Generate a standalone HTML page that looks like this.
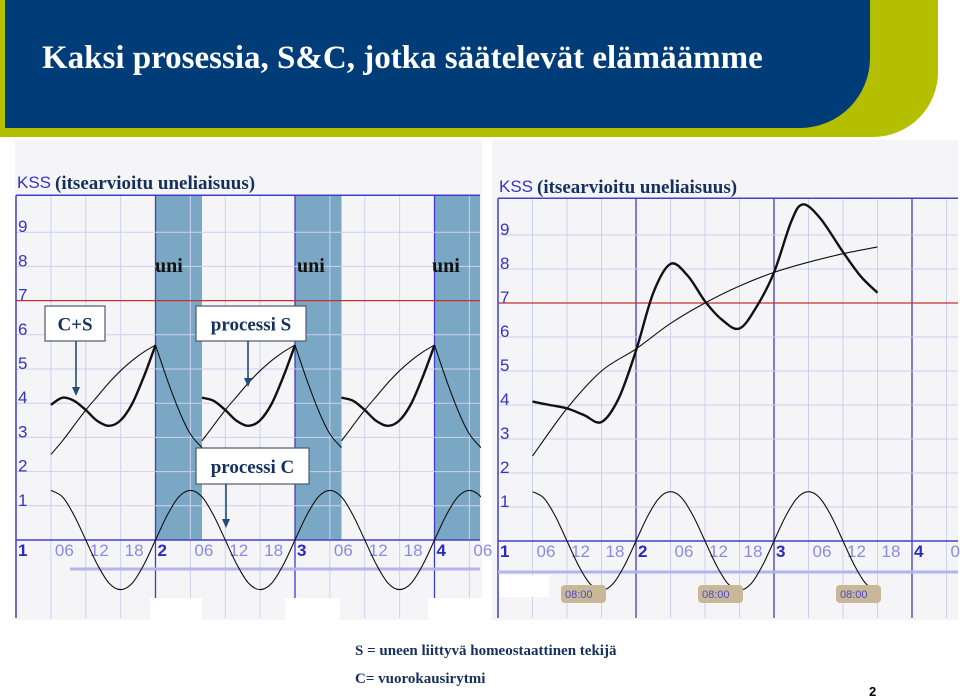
<!DOCTYPE html>
<html><head><meta charset="utf-8">
<style>
html,body{margin:0;padding:0;background:#fff;}
svg{display:block;}
.ax{font-family:"Liberation Sans Narrow","Liberation Sans",sans-serif;font-size:17px;}
.serif{font-family:"Liberation Serif",serif;font-weight:bold;}
</style></head>
<body>
<svg id="s" width="960" height="698" viewBox="0 0 960 698" xmlns="http://www.w3.org/2000/svg">
  <path d="M 0 0 H 938 V 72 A 65 65 0 0 1 873 137 H 0 Z" fill="#b4bf00"/>
  <path d="M 5 0 H 870 V 58 A 70 70 0 0 1 800 128 H 5 Z" fill="#003c78"/>
  <text x="42" y="68" class="serif" font-size="33" fill="#fff">Kaksi prosessia, S&amp;C, jotka säätelevät elämäämme</text>
  <rect x="15" y="140" width="467" height="480" fill="#f5f5f7"/>
  <rect x="492" y="140" width="466" height="480" fill="#f5f5f7"/>
  <g id="left"></g>
  <g id="right"></g>
  <text x="355" y="655" class="serif" font-size="15" fill="#13305e">S = uneen liittyvä homeostaattinen tekijä</text>
  <text x="355" y="683" class="serif" font-size="15" fill="#13305e">C= vuorokausirytmi</text>
  <text x="869" y="696" font-family="Liberation Sans,sans-serif" font-weight="bold" font-size="13" fill="#000">2</text>
</svg>
<script>
// ---- data (hours from day 1 00:00, KSS values) ----
const cHours = [0,2,4,6,8,10,12,14,16,18,20,22];
const cVals  = [0,0.72,1.26,1.45,1.26,0.72,0,-0.72,-1.26,-1.45,-1.26,-0.72];
const leftWakeHours = [6,8,10,12,14,16,18,20,22,24];
const leftWakeS     = [2.5,2.9,3.35,3.8,4.2,4.6,4.95,5.25,5.5,5.7];
const leftSleepHours = [0,2,4,6,8];
const leftSleepS     = [5.7,4.7,3.8,3.1,2.7];
const sleepBands = [[24,32],[48,56],[72,80]];
const rightSHours = [6,12,18,24,30,36,42,48,54,60,66];
const rightSVals  = [2.5,3.9,5.0,5.65,6.4,7.0,7.5,7.9,8.2,8.45,8.65];
const rightCSHours = [6,9,12,15,18,21,24,27,30,33,36,39,42,45,48,51,53,56,60,63,66];
const rightCSVals  = [4.1,4.0,3.9,3.7,3.5,4.2,5.6,7.3,8.15,7.8,7.05,6.5,6.25,6.9,7.9,9.4,9.9,9.5,8.5,7.8,7.3];
const yTicks = [1,2,3,4,5,6,7,8,9];
const hourTicks = ["06","12","18"];
const dayTicks = ["1","2","3","4"];

const NS="http://www.w3.org/2000/svg";
function mk(parent, tag, attrs){const e=document.createElementNS(NS,tag);for(const k in attrs)e.setAttribute(k,attrs[k]);parent.appendChild(e);return e;}
function smooth(p){let d="M"+p[0][0].toFixed(1)+" "+p[0][1].toFixed(1);
  for(let i=0;i<p.length-1;i++){const p0=p[i-1]||p[i],p1=p[i],p2=p[i+1],p3=p[i+2]||p2;
    d+=" C"+(p1[0]+(p2[0]-p0[0])/6).toFixed(1)+" "+(p1[1]+(p2[1]-p0[1])/6).toFixed(1)+" "+(p2[0]-(p3[0]-p1[0])/6).toFixed(1)+" "+(p2[1]-(p3[1]-p1[1])/6).toFixed(1)+" "+p2[0].toFixed(1)+" "+p2[1].toFixed(1);}
  return d;}
function cAt(h){const i=cHours.indexOf(((h%24)+24)%24);return cVals[i];}

function panel(g, cfg){
  const X=h=>cfg.x0+h/24*cfg.dayW, Y=v=>cfg.y0-v*cfg.unit;
  const top=Y(10.08);
  // bands
  (cfg.bands||[]).forEach(b=>{const x1=X(b[0]),x2=Math.min(X(b[1]),cfg.xr);
    const r=mk(g,'rect',{x:x1,y:top,width:x2-x1,height:cfg.y0-top,fill:'#7aa8c4'});
    
    });
  // vertical grid
  for(let h=6;X(h)<=cfg.xr+1;h+=6){const day=h%24===0;
    const l=mk(g,'line',{x1:X(h),x2:X(h),y1:top,y2:cfg.yb,stroke:day?'#3c3cc8':'#cfcff2','stroke-width':day?1.3:1});
    
    }
  // horizontal grid
  yTicks.concat([10.08]).forEach(v=>{const red=v===7;
    const l=mk(g,'line',{x1:cfg.x0,x2:cfg.xr,y1:Y(v),y2:Y(v),stroke:red?'#c83030':(v>10?'#4040c8':'#cfcff2'),'stroke-width':red?1.3:(v>10?1.5:1)});
    
    });
  const ax=mk(g,'line',{x1:cfg.x0,x2:cfg.xr,y1:cfg.y0,y2:cfg.y0,stroke:'#4040c8','stroke-width':1.6});
  
  
  const la=mk(g,'line',{x1:cfg.x0,x2:cfg.x0,y1:top,y2:cfg.yb,stroke:'#4040c8','stroke-width':1.5});
  
  
  const lav=mk(g,'line',{x1:cfg.lavX,x2:cfg.xr,y1:cfg.lavY,y2:cfg.lavY,stroke:'#b4b4ee','stroke-width':3});
  
  
  // y labels
  yTicks.forEach(v=>{const t=mk(g,'text',{x:cfg.x0+2,y:Y(v),class:'ax',fill:'#3434c4'});t.textContent=v;
    
    });
  // x labels
  dayTicks.forEach((d,i)=>{const t=mk(g,'text',{x:X(i*24)+2,y:cfg.y0+16,class:'ax',fill:'#2a2abf','font-weight':'bold'});t.textContent=d;
    
    
    hourTicks.forEach((hh,j)=>{const x=X(i*24+(j+1)*6)+4;if(x>cfg.xr-4)return;
      const u=mk(g,'text',{x:x,y:cfg.y0+16,class:'ax',fill:'#8a8ae4'});u.textContent=hh;
      
      });});
  mk(g,'text',{x:cfg.x0+1,y:cfg.kssY,class:'ax',fill:'#3434c4','font-size':16}).textContent='KSS';
  const tt=mk(g,'text',{x:cfg.x0+39,y:cfg.kssY+1,class:'serif','font-size':19,fill:'#13305e'});tt.textContent='(itsearvioitu uneliaisuus)';
  
  
  return {X,Y};
}
function clipG(g,id,x,w){const d=mk(g,'clipPath',{id:id});mk(d,'rect',{x:x,y:140,width:w,height:480});return mk(g,'g',{'clip-path':'url(#'+id+')'});}
function curve(g,pts,w,name){const p=mk(g,'path',{d:smooth(pts),fill:'none',stroke:'#111','stroke-width':w,'stroke-linejoin':'round'});
  
  }

// LEFT
const L=document.getElementById('left');
const lc={x0:16,dayW:139.5,y0:540,unit:34.2,xr:480,yb:618,bands:sleepBands,lavX:70,lavY:569,kssY:188};
const la=panel(L,lc);
const lg=clipG(L,'cl',16,465);
// process C
let cp=[];for(let h=6;h<=82;h+=2)cp.push([la.X(h),la.Y(cAt(h))]);
curve(lg,cp,1.1,'process-c-line');
// process S (thin) and C+S (thick)
let sp=[];
for(let d=0;d<4;d++){
  leftWakeHours.forEach((h,i)=>{if(d>0&&h<8)return;if(d===0&&h<6)return;if(d===3)return;sp.push([la.X(d*24+h),la.Y(leftWakeS[i])]);});
  if(d<3) leftSleepHours.forEach((h,i)=>{if(i===0)return;sp.push([la.X((d+1)*24+h),la.Y(leftSleepS[i])]);});
}
// draw S in segments (sharp corners at peaks/troughs)
for(let d=0;d<3;d++){
  let w=[];leftWakeHours.forEach((h,i)=>{if(d>0&&h<8)return;w.push([la.X(d*24+h),la.Y(leftWakeS[i])]);});
  curve(lg,w,1.1,'process-s-rise');
  let s=leftSleepHours.map((h,i)=>[la.X((d+1)*24+h),la.Y(leftSleepS[i])]);
  curve(lg,s,1.1,'process-s-decay');
  let cs=[];leftWakeHours.forEach((h,i)=>{if(d>0&&h<8)return;cs.push([la.X(d*24+h),la.Y(leftWakeS[i]+cAt(h))]);});
  curve(lg,cs,2.4,'c-plus-s-line');
}
// annotations
function box(g,x,y,w,h,label,name){const r=mk(g,'rect',{x:x,y:y,width:w,height:h,fill:'#fff',stroke:'#4a5a70','stroke-width':1.2});
  
  
  const t=mk(g,'text',{x:x+w/2,y:y+h/2+7,'text-anchor':'middle',class:'serif','font-size':19,fill:'#13305e'});t.textContent=label;}
function arrow(g,x,y1,y2){mk(g,'line',{x1:x,x2:x,y1:y1,y2:y2-7,stroke:'#1f4e79','stroke-width':1.6});
  mk(g,'path',{d:`M${x-4} ${y2-9} L${x+4} ${y2-9} L${x} ${y2} Z`,fill:'#1f4e79'});}
[[155,'uni'],[297,'uni'],[432,'uni']].forEach(u=>{const t=mk(L,'text',{x:u[0],y:272,class:'serif','font-size':20,fill:'#111'});t.textContent=u[1];
  
  });
box(L,45,306,60,35,'C+S','c-plus-s-label');
box(L,196,306,110,35,'processi S','process-s-label');
box(L,196,448,113,36,'processi C','process-c-label');
arrow(L,76,341,396);arrow(L,248,341,387);arrow(L,226,484,528);

// RIGHT
const R=document.getElementById('right');
const rc={x0:498,dayW:138,y0:541,unit:34,xr:958,yb:618,bands:[],lavX:498,lavY:572,kssY:192};
const ra=panel(R,rc);
const rg=clipG(R,'cr',498,460);
let rcp=[];for(let h=6;h<=66;h+=2)rcp.push([ra.X(h),ra.Y(cAt(h))]);
curve(rg,rcp,1.1,'process-c-line');
curve(rg,rightSHours.map((h,i)=>[ra.X(h),ra.Y(rightSVals[i])]),1.1,'process-s-line');
curve(rg,rightCSHours.map((h,i)=>[ra.X(h),ra.Y(rightCSVals[i])]),2.4,'c-plus-s-line');
[561,698,836].forEach(x=>{const r=mk(R,'rect',{x:x,y:585,width:45,height:18,rx:4,fill:'#c8b898'});
  
  
  const t=mk(R,'text',{x:x+4,y:598,'font-family':'Liberation Sans Narrow,Liberation Sans,sans-serif','font-size':11,fill:'#4a4ac8'});t.textContent='08:00';});
mk(L,'rect',{x:150,y:598,width:52,height:22,fill:'#fff'});
mk(L,'rect',{x:285,y:598,width:55,height:22,fill:'#fff'});
mk(L,'rect',{x:428,y:598,width:60,height:22,fill:'#fff'});
mk(R,'rect',{x:499,y:575,width:50,height:22,fill:'#fff'});
</script>
</body></html>
